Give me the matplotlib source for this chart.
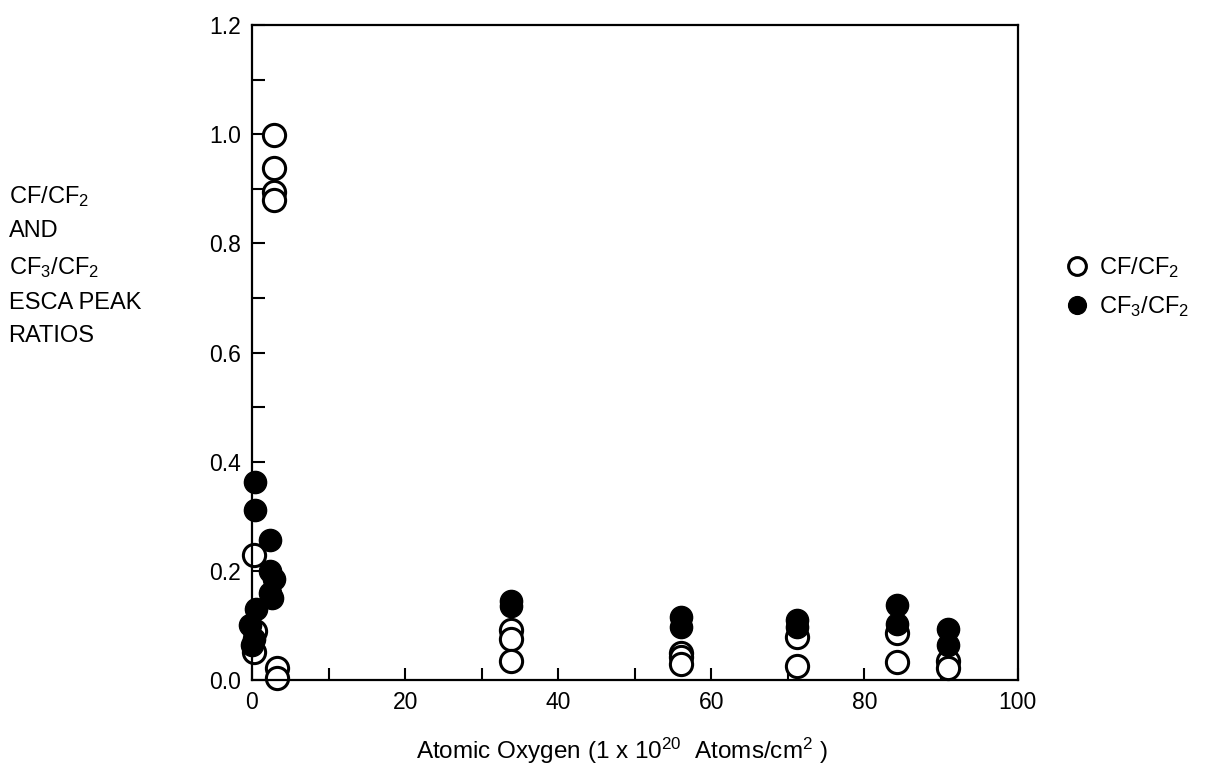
import numpy as np
import matplotlib.pyplot as plt

plt.rcParams['font.family'] = ['Liberation Sans', 'DejaVu Sans']
plt.rcParams['mathtext.default'] = 'regular'

# CF/CF2 (open circles)
cf_x = [2.9, 2.9, 2.9, 2.9, 0.2, 0.4, 0.3, 3.3, 3.3,
        33.8, 33.8, 33.8, 56.0, 56.0, 56.0, 71.2, 71.2, 84.3, 84.3, 90.9, 90.9]
cf_y = [0.998, 0.938, 0.894, 0.880, 0.229, 0.090, 0.052, 0.022, 0.004,
        0.092, 0.075, 0.035, 0.050, 0.042, 0.030, 0.078, 0.025, 0.087, 0.033, 0.035, 0.022]

# CF3/CF2 (filled circles)
cf3_x = [0.4, 0.4, 2.4, 2.4, 2.9, 2.3, 2.6, 0.5, -0.3, 0.2, 0.0,
         33.8, 33.8, 56.0, 56.0, 71.2, 71.2, 84.3, 84.3, 90.9, 90.9]
cf3_y = [0.363, 0.311, 0.256, 0.200, 0.185, 0.160, 0.150, 0.130, 0.100, 0.075, 0.065,
         0.145, 0.135, 0.115, 0.097, 0.110, 0.098, 0.137, 0.102, 0.093, 0.065]

fig = plt.figure(figsize=(12.25, 7.82), dpi=100)
ax = fig.add_axes([0.2057, 0.1304, 0.625, 0.8376])

ax.plot(cf_x, cf_y, 'o', ms=16, mfc='white', mec='black', mew=2.2, clip_on=False,
        label='CF/CF$_2$')
ax.plot(cf3_x, cf3_y, 'o', ms=16, mfc='black', mec='black', mew=1, clip_on=False,
        label='CF$_3$/CF$_2$')

ax.set_xlim(0, 100)
ax.set_ylim(0, 1.2)
ax.set_xticks(np.arange(0, 101, 20))
ax.set_xticks(np.arange(0, 101, 10), minor=True)
ax.set_yticks(np.arange(0, 1.21, 0.2))
ax.set_yticks(np.arange(0, 1.21, 0.1), minor=True)
ax.set_yticklabels(['%.1f' % v for v in np.arange(0, 1.21, 0.2)])
ax.tick_params(which='both', direction='in', width=1.5, labelsize=16.5, pad=8)
ax.tick_params(which='major', length=9)
ax.tick_params(which='minor', length=9)
for s in ax.spines.values():
    s.set_linewidth(1.6)

ax.set_xlabel('Atomic Oxygen (1 x 10$^{20}$  Atoms/cm$^{2}$ )', fontsize=17.5, labelpad=16)
ax.xaxis.set_label_coords(0.483, -0.085)

fig.text(0.007, 0.765, 'CF/CF$_2$\nAND\nCF$_3$/CF$_2$\nESCA PEAK\nRATIOS',
         fontsize=17, va='top', ha='left', linespacing=1.68)

ax.legend(loc='center left', bbox_to_anchor=(1.035, 0.60), frameon=False,
          fontsize=17, markerscale=0.8, handletextpad=0.4, labelspacing=0.6,
          handlelength=1.0)

fig.savefig('out.png', dpi=100)
